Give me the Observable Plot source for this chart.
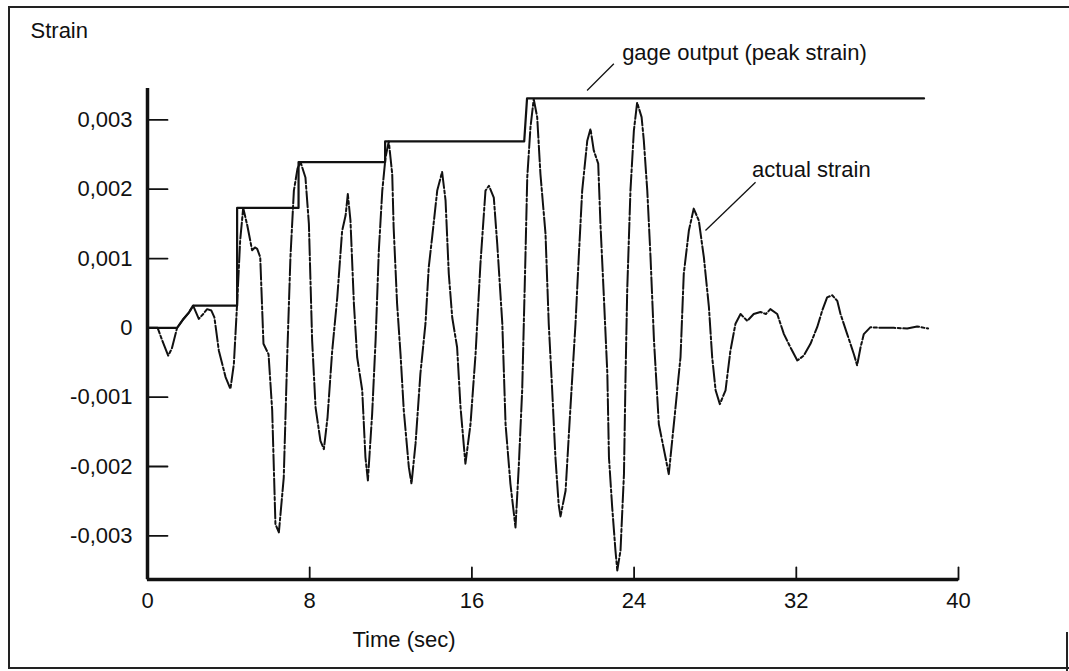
<!DOCTYPE html>
<html>
<head>
<meta charset="utf-8">
<script src="https://cdn.jsdelivr.net/npm/d3@7"></script>
<script src="https://cdn.jsdelivr.net/npm/@observablehq/plot@0.6"></script>
<style>
  html, body { margin: 0; padding: 0; background: #fff; }
  #wrap { position: relative; width: 1069px; height: 671px; overflow: hidden; }
  .fl { position: absolute; background: #222; }
</style>
</head>
<body>
<div id="wrap">
  <div class="fl" style="left:8px;top:6px;width:2px;height:663px;"></div>
  <div class="fl" style="left:8px;top:6px;width:1061px;height:2px;"></div>
  <div class="fl" style="left:8px;top:667px;width:1061px;height:2px;"></div>
  <div class="fl" style="left:1066px;top:632px;width:2px;height:39px;"></div>
</div>
<script>
// ---- data (strain values in units of 1e-3) ----
const actualTime = [0,0.5,0.75,1.02,1.2,1.46,1.75,2.04,2.25,2.53,2.75,2.94,3.15,3.3,3.52,3.85,4.09,4.26,4.42,4.57,4.72,4.92,5.16,5.3,5.41,5.56,5.72,5.97,6.15,6.31,6.48,6.72,6.89,7.05,7.22,7.4,7.55,7.79,7.96,8.12,8.29,8.53,8.7,8.88,9.11,9.36,9.6,9.77,9.88,10.01,10.18,10.34,10.59,10.75,10.87,11.08,11.25,11.41,11.58,11.74,11.9,12.07,12.14,12.31,12.48,12.64,12.89,13.02,13.22,13.46,13.71,13.87,14.04,14.29,14.53,14.7,14.86,15.03,15.27,15.44,15.68,15.93,16.18,16.42,16.67,16.84,17.08,17.25,17.5,17.66,17.9,18.15,18.31,18.48,18.64,18.73,18.89,19.05,19.22,19.38,19.63,19.79,19.96,20.12,20.28,20.37,20.62,20.86,21.11,21.27,21.44,21.69,21.85,22.01,22.23,22.34,22.51,22.68,22.76,22.92,23.08,23.17,23.33,23.5,23.58,23.66,23.82,23.99,24.15,24.37,24.48,24.65,24.81,24.98,25.22,25.55,25.71,25.96,26.29,26.45,26.7,26.94,27.19,27.44,27.69,27.85,28.02,28.23,28.51,28.75,29.0,29.25,29.58,29.9,30.23,30.5,30.72,31.06,31.39,31.71,32.05,32.37,32.7,33.03,33.28,33.52,33.77,34.02,34.18,34.51,34.84,35.0,35.17,35.33,35.66,36.15,36.81,37.47,37.96,38.5];
const actualStrain = [0,0,-0.2,-0.4,-0.3,0,0.12,0.22,0.32,0.13,0.2,0.27,0.25,0.15,-0.33,-0.71,-0.88,-0.52,0.35,1.26,1.73,1.48,1.12,1.16,1.14,1.02,-0.23,-0.38,-1.19,-2.83,-2.95,-2.16,-0.42,1.02,1.98,2.3,2.39,2.17,1.5,-0.18,-1.15,-1.63,-1.75,-1.29,-0.33,0.44,1.4,1.62,1.93,1.55,0.35,-0.42,-0.9,-1.87,-2.2,-1.24,-0.18,1.12,1.98,2.46,2.69,2.22,1.45,0.35,-0.38,-1.19,-2.01,-2.25,-1.67,-0.66,0.06,0.87,1.31,1.98,2.25,1.84,0.78,0.15,-0.28,-1.15,-1.96,-1.39,-0.38,0.92,1.98,2.05,1.88,1.21,0.06,-1.39,-2.25,-2.88,-2.01,-0.9,1.02,2.17,2.9,3.3,3.04,2.22,1.36,0.06,-0.9,-1.87,-2.55,-2.72,-2.35,-1.15,0.06,1.02,1.98,2.7,2.87,2.56,2.37,1.5,0.44,-0.66,-1.87,-2.59,-3.21,-3.5,-3.21,-2.11,-0.66,0.54,1.98,2.85,3.25,3.04,2.7,1.98,1.02,-0.18,-1.39,-1.87,-2.11,-1.39,-0.42,0.78,1.4,1.72,1.55,1.02,0.3,-0.42,-0.9,-1.1,-0.9,-0.33,0.06,0.2,0.1,0.2,0.23,0.2,0.27,0.2,-0.09,-0.28,-0.47,-0.4,-0.23,0.01,0.25,0.44,0.47,0.39,0.2,-0.09,-0.38,-0.54,-0.28,-0.09,0.01,0,0,-0.01,0.02,-0.01];

const gageTime   = [0,1.46,1.75,2.04,2.25,4.42,4.42,7.45,7.45,11.72,11.72,18.58,18.72,38.3];
const gageStrain = [0,0,0.12,0.22,0.32,0.32,1.73,1.73,2.39,2.39,2.69,2.69,3.31,3.31];

const xTicks = [0, 8, 16, 24, 32, 40];
const yTicks = [-0.003, -0.002, -0.001, 0, 0.001, 0.002, 0.003];
const xDomain = [0, 40];
const yDomain = [-0.00363, 0.003453];

const labels = [
  {text: "Strain", t: -5.77, v: 4.175},
  {text: "Time (sec)", t: 10.11, v: -4.61},
  {text: "gage output (peak strain)", t: 23.41, v: 3.857},
  {text: "actual strain", t: 29.82, v: 2.173}
];
const pointers = [
  {t1: 21.68, v1: 3.423, t2: 23.0, v2: 3.81},
  {t1: 27.52, v1: 1.404, t2: 29.99, v2: 2.101}
];

// ---- build tables ----
const actual = actualTime.map((t, i) => ({t, v: actualStrain[i] / 1000}));
const gage = gageTime.map((t, i) => ({t, v: gageStrain[i] / 1000}));
const fmt = d => d === 0 ? "0" : d.toFixed(3).replace(".", ",");
const font = "'Liberation Sans', Arial, Helvetica, sans-serif";
const tickShape = {draw(context, l) { context.moveTo(0, 0); context.lineTo(0, -l); }};

const chart = Plot.plot({
  width: 1069,
  height: 671,
  marginLeft: 147,
  marginRight: 111,
  marginTop: 88,
  marginBottom: 92,
  style: {fontFamily: font, fontSize: "22px", color: "#111", background: "transparent"},
  x: {domain: xDomain},
  y: {domain: yDomain},
  marks: [
    Plot.line(actual, {x: "t", y: "v", stroke: "#111", strokeWidth: 2, strokeDasharray: "16,2.5,3,2.5"}),
    Plot.line(gage, {x: "t", y: "v", stroke: "#111", strokeWidth: 2.2}),
    Plot.vector(yTicks, {y: d => d, frameAnchor: "left", length: 20, rotate: 90, anchor: "start", shape: tickShape, stroke: "#111", strokeWidth: 1.8}),
    Plot.vector(xTicks, {x: d => d, frameAnchor: "bottom", length: 12, rotate: 0, anchor: "start", shape: tickShape, stroke: "#111", strokeWidth: 1.8}),
    Plot.ruleX([xDomain[0]], {stroke: "#111", strokeWidth: 3.5}),
    Plot.ruleY([yDomain[0]], {stroke: "#111", strokeWidth: 3.5}),
    Plot.axisY(yTicks, {tickSize: 0, tickPadding: 15, tickFormat: fmt, label: null, fontSize: 22, fill: "#111"}),
    Plot.axisX(xTicks, {tickSize: 0, tickPadding: 13, tickFormat: d => String(d), label: null, fontSize: 22, fill: "#111"}),
    Plot.link(pointers, {x1: "t1", y1: d => d.v1 / 1000, x2: "t2", y2: d => d.v2 / 1000, stroke: "#111", strokeWidth: 1.3}),
    Plot.text(labels, {x: "t", y: d => d.v / 1000, text: "text", textAnchor: "start", lineAnchor: "bottom", fontSize: 22, fill: "#111"})
  ]
});
document.getElementById("wrap").appendChild(chart);
chart.style.position = "absolute";
chart.style.left = "0";
chart.style.top = "0";
</script>
</body>
</html>
